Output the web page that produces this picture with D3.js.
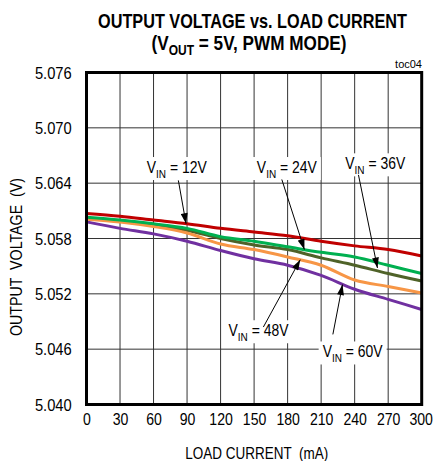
<!DOCTYPE html>
<html><head><meta charset="utf-8">
<script src="https://cdn.jsdelivr.net/npm/d3@7/dist/d3.min.js"></script>
<style>
html,body{margin:0;padding:0;background:#fff;}
svg{display:block;font-family:"Liberation Sans",Arial,sans-serif;}
</style></head>
<body>
<svg id="chart" width="433" height="461"></svg>
<script>
// ---- data ----
const loadCurrent = [0, 30, 60, 90, 120, 150, 180, 210, 240, 270, 300];
const vin12 = [5.0607, 5.0604, 5.0600, 5.0596, 5.0591, 5.0587, 5.0583, 5.0577, 5.0572, 5.0568, 5.0561];
const vin24 = [5.0603, 5.0600, 5.0596, 5.0591, 5.0582, 5.0577, 5.0571, 5.0565, 5.0560, 5.0551, 5.0542];
const vin36 = [5.0602, 5.0599, 5.0595, 5.0589, 5.0580, 5.0573, 5.0568, 5.0559, 5.0551, 5.0542, 5.0534];
const vin48 = [5.0601, 5.0598, 5.0593, 5.0586, 5.0574, 5.0568, 5.0560, 5.0551, 5.0535, 5.0528, 5.0521];
const vin60 = [5.0598, 5.0591, 5.0585, 5.0577, 5.0567, 5.0558, 5.0551, 5.0540, 5.0525, 5.0514, 5.0503];
const xTicks = [0, 30, 60, 90, 120, 150, 180, 210, 240, 270, 300];
const yTicks = [5.040, 5.046, 5.052, 5.058, 5.064, 5.070, 5.076];
const seriesNames = ["12V", "24V", "36V", "48V", "60V"];
const seriesColors = {"12V": "#c00000", "24V": "#00b050", "36V": "#4f6228", "48V": "#f79646", "60V": "#7030a0"};
// label anchor [mA, V], arrow tail [mA, V], arrow tip [mA, V]
const labelPos = {"12V": [80.8, 5.0651], "24V": [179.3, 5.0651], "36V": [258.4, 5.0655], "48V": [153.9, 5.0474], "60V": [238.2, 5.0451]};
const arrowTail = {"12V": [82.2, 5.0643], "24V": [174.8, 5.0644], "36V": [243.4, 5.0649], "48V": [158.3, 5.0484], "60V": [220.5, 5.0476]};
const arrowTip = {"12V": [89.1, 5.0596], "24V": [195, 5.0568], "36V": [260.4, 5.0548], "48V": [191.3, 5.0557], "60V": [229.1, 5.0530]};

const seriesValues = {"12V": vin12, "24V": vin24, "36V": vin36, "48V": vin48, "60V": vin60};
const drawOrder = ["36V", "60V", "48V", "24V", "12V"];

// ---- layout ----
const svg = d3.select("#chart");
const L = 86.5, R = 421.7, T = 72.5, B = 404.5;
const x = d3.scaleLinear().domain([0, 300]).range([L, R]);
const y = d3.scaleLinear().domain([5.040, 5.076]).range([B, T]);

function condensed(parent, px, py, sx, anchor, size, weight) {
  const g = parent.append("g").attr("transform", `translate(${px},${py})`);
  const t = g.append("text").attr("text-anchor", anchor).attr("font-size", size)
    .attr("font-weight", weight || "normal").attr("fill", "#000");
  return {g, t, scale: s => g.attr("transform", `translate(${px},${py}) scale(${s},1)`)};
}
function fit(obj, target) {
  const w = obj.t.node().getComputedTextLength();
  obj.scale(target / w);
}

// grid
const grid = svg.append("g");
grid.selectAll(".vg").data(xTicks.slice(1, -1)).join("line")
  .attr("x1", d => x(d)).attr("x2", d => x(d)).attr("y1", T).attr("y2", B)
  .attr("stroke", "#333").attr("stroke-width", 1);
grid.selectAll(".hg").data(yTicks.slice(1, -1)).join("line")
  .attr("x1", L).attr("x2", R).attr("y1", d => y(d)).attr("y2", d => y(d))
  .attr("stroke", "#333").attr("stroke-width", 1);

// axes labels via d3 axes (ticks text only)
const xAxis = d3.axisBottom(x).tickValues(xTicks).tickSize(0).tickPadding(0).tickFormat(d3.format("d"));
const gx = svg.append("g").attr("transform", `translate(0,${B})`).call(xAxis);
gx.select(".domain").remove();
gx.selectAll(".tick text").remove();
gx.selectAll(".tick").each(function(d, i) {
  const last = d === 300;
  const o = condensed(d3.select(this), last ? -1 : 0, 20.5, 0.88, "middle", 16);
  o.t.text(d);
  o.scale(0.88);
});
const yAxis = d3.axisLeft(y).tickValues(yTicks).tickSize(0).tickPadding(0).tickFormat(d3.format(".3f"));
const gy = svg.append("g").attr("transform", `translate(${L},0)`).call(yAxis);
gy.select(".domain").remove();
gy.selectAll(".tick text").remove();
gy.selectAll(".tick").each(function(d) {
  const o = condensed(d3.select(this), -14.8, 5.8, 0.92, "end", 16);
  o.t.text(d3.format(".3f")(d));
  o.scale(0.92);
});

// lines
const clip = svg.append("clipPath").attr("id", "plotclip").append("rect")
  .attr("x", L).attr("y", T).attr("width", R - L).attr("height", B - T);
const line = d3.line().x(d => x(d[0])).y(d => y(d[1])).curve(d3.curveMonotoneX);
const lines = svg.append("g").attr("clip-path", "url(#plotclip)");
drawOrder.forEach(name => {
  const pts = loadCurrent.map((c, i) => [c, seriesValues[name][i]]);
  lines.append("path").attr("d", line(pts)).attr("fill", "none")
    .attr("stroke", seriesColors[name]).attr("stroke-width", 3)
    .attr("stroke-linejoin", "round");
});

// frame
svg.append("rect").attr("x", L).attr("y", T).attr("width", R - L).attr("height", B - T)
  .attr("fill", "none").attr("stroke", "#000").attr("stroke-width", 3);

// annotations
const defs = svg.append("defs");
defs.append("marker").attr("id", "arrowhead").attr("viewBox", "0 0 12 8")
  .attr("refX", 12).attr("refY", 4).attr("markerWidth", 12).attr("markerHeight", 7)
  .attr("markerUnits", "userSpaceOnUse").attr("orient", "auto")
  .append("path").attr("d", "M0,0 L12,4 L0,8 Z").attr("fill", "#000");

const ann = svg.append("g");
seriesNames.forEach(name => {
  const lp = labelPos[name];
  const px = x(lp[0]), py = y(lp[1]);
  const o = condensed(ann, px, py, 0.88, "middle", 16);
  o.t.append("tspan").text("V");
  o.t.append("tspan").attr("font-size", 11.5).attr("dy", 4.5).text("IN");
  o.t.append("tspan").attr("dy", -4.5).text(" = " + name);
  fit(o, 60);
  const w = 60;
  ann.insert("rect", () => o.g.node())
    .attr("x", px - w / 2 - 4).attr("y", py - 16).attr("width", w + 8).attr("height", 23)
    .attr("fill", "#fff");
  const ta = arrowTail[name], tp = arrowTip[name];
  ann.append("line").attr("x1", x(ta[0])).attr("y1", y(ta[1]))
    .attr("x2", x(tp[0])).attr("y2", y(tp[1]))
    .attr("stroke", "#000").attr("stroke-width", 1).attr("marker-end", "url(#arrowhead)");
});

// titles
const t1 = condensed(svg, 252.5, 28.3, 1, "middle", 20, "bold");
t1.t.text("OUTPUT VOLTAGE vs. LOAD CURRENT");
fit(t1, 309);
const t2 = condensed(svg, 249, 50, 1, "middle", 20, "bold");
t2.t.append("tspan").text("(V");
t2.t.append("tspan").attr("font-size", 14).attr("dy", 5).text("OUT");
t2.t.append("tspan").attr("dy", -5).text(" = 5V, PWM MODE)");
fit(t2, 195);

const toc = svg.append("text").attr("x", 422).attr("y", 68).attr("text-anchor", "end")
  .attr("font-size", 11).attr("fill", "#000").text("toc04");

const xt = condensed(svg, 256.7, 459, 1, "middle", 16);
xt.t.style("white-space", "pre").text("LOAD CURRENT  (mA)");
fit(xt, 143);

const ytg = svg.append("g").attr("transform", "translate(22,257) rotate(-90)");
const yt = condensed(ytg, 0, 0, 1, "middle", 16);
yt.t.style("white-space", "pre").text("OUTPUT  VOLTAGE  (V)");
fit(yt, 158);
</script>
</body></html>
